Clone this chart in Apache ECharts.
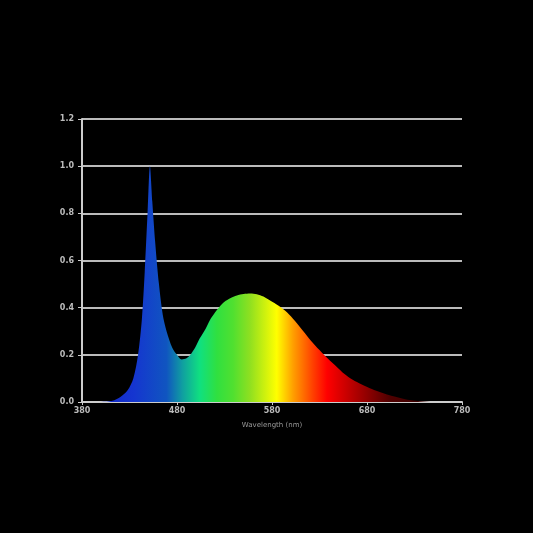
<!DOCTYPE html>
<html>
<head>
    <meta charset="utf-8">
    <title>Spectrum</title>
    <script src="https://cdn.jsdelivr.net/npm/echarts@6/dist/echarts.min.js"></script>
    <style>
        html, body { margin: 0; padding: 0; background: #000; }
    </style>
</head>
<body>
    <div id="main" style="width: 533px;height:533px;"></div>
    <script type="text/javascript">
        // wavelength (nm) and relative intensity
        var wavelengths = [380, 400, 412, 420, 428, 434, 439, 443, 446, 449, 451.5, 454, 457, 461, 465, 469, 475, 480, 485, 490, 494, 499, 504, 510, 515, 520, 525, 530, 536, 543, 550, 557, 564, 571, 578, 587, 596, 604, 613, 621, 630, 639, 648, 656, 665, 674, 683, 692, 701, 710, 718, 727, 736, 750, 780]
        var intensity = [0, 0, 0.005, 0.02, 0.05, 0.1, 0.2, 0.35, 0.55, 0.8, 1.0, 0.85, 0.68, 0.5, 0.37, 0.3, 0.23, 0.2, 0.18, 0.185, 0.2, 0.23, 0.27, 0.31, 0.35, 0.38, 0.405, 0.425, 0.44, 0.452, 0.458, 0.46, 0.457, 0.447, 0.43, 0.408, 0.38, 0.345, 0.30, 0.26, 0.22, 0.183, 0.15, 0.12, 0.094, 0.075, 0.058, 0.044, 0.032, 0.022, 0.014, 0.007, 0.003, 0, 0]
        var yTicks = [0, 0.2, 0.4, 0.6, 0.8, 1.0, 1.2]

        // spectrum colours by wavelength
        var spectrumNm = [380, 434, 469, 486, 504, 522, 539, 557, 585, 602, 623, 638, 680, 704, 780]
        var spectrumColors = ["#1020c0", "#1535d0", "#1055c0", "#10a0a0", "#10e080", "#30e040", "#50e030", "#90e020", "#ffff00", "#ffa000", "#ff4000", "#ff0000", "#900000", "#500000", "#200000"]

        var myChart = echarts.init(document.getElementById("main"))

        var points = wavelengths.map(function (w, i) { return [w, intensity[i]] })
        var stops = spectrumNm.map(function (w, i) {
            return { offset: (w - 380) / 400, color: spectrumColors[i] }
        })

        var option = {
            backgroundColor: "#000",
            animation: false,
            grid: { left: 82, right: 71, top: 119, bottom: 131 },
            xAxis: {
                type: "value",
                min: 380,
                max: 780,
                interval: 100,
                name: "Wavelength (nm)",
                nameLocation: "middle",
                nameGap: 20,
                nameTextStyle: { color: "#999", fontSize: 7, fontFamily: "DejaVu Sans" },
                axisLine: { lineStyle: { color: "#ccc", width: 2 } },
                axisTick: { show: true, length: 3, lineStyle: { color: "#ccc" } },
                axisLabel: { color: "#bbb", fontSize: 8, fontWeight: "bold", fontFamily: "DejaVu Sans", margin: 5 },
                splitLine: { show: false }
            },
            yAxis: {
                type: "value",
                min: yTicks[0],
                max: yTicks[yTicks.length - 1],
                interval: 0.2,
                axisLine: { show: true, lineStyle: { color: "#ccc", width: 2 } },
                axisTick: { show: true, length: 4, lineStyle: { color: "#ccc" } },
                axisLabel: {
                    color: "#bbb", fontSize: 8, fontWeight: "bold", fontFamily: "DejaVu Sans", margin: 8,
                    formatter: function (v) { return v.toFixed(1) }
                },
                splitLine: { lineStyle: { color: "#bbb", width: 2 } }
            },
            series: [
                {
                    type: "line",
                    data: points,
                    smooth: 0.3,
                    symbol: "none",
                    lineStyle: { width: 0 },
                    areaStyle: {
                        opacity: 1,
                        color: new echarts.graphic.LinearGradient(0, 0, 1, 0, stops)
                    }
                }
            ]
        }
        myChart.setOption(option)
    </script>
</body>
</html>
